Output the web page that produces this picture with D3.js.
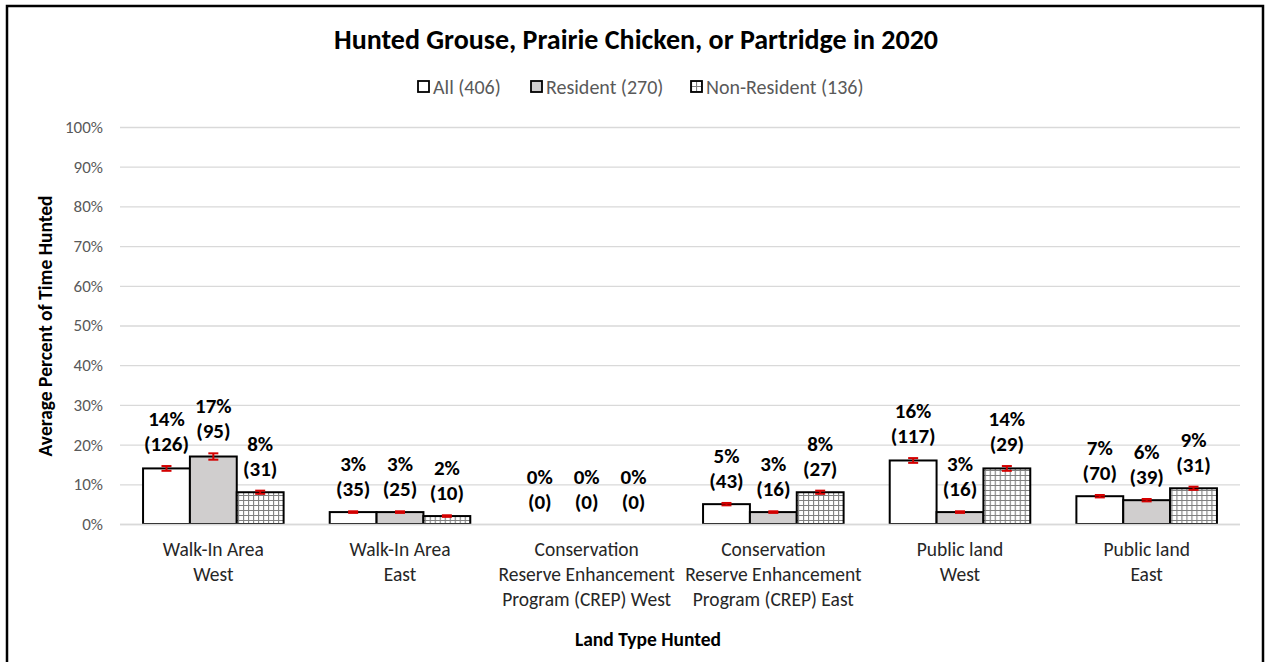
<!DOCTYPE html>
<html>
<head>
<meta charset="utf-8">
<script src="https://cdn.jsdelivr.net/npm/d3@7"></script>
<style>
  html, body { margin: 0; padding: 0; background: #fff; }
  svg { display: block; font-family: Carlito, "Liberation Sans", Arial, sans-serif; }
</style>
</head>
<body>
<svg id="chart" width="1265" height="662"></svg>
<script>
// values
const categories = [
  ["Walk-In Area", "West"],
  ["Walk-In Area", "East"],
  ["Conservation", "Reserve Enhancement", "Program (CREP) West"],
  ["Conservation", "Reserve Enhancement", "Program (CREP) East"],
  ["Public land", "West"],
  ["Public land", "East"]
];
const seriesNames = ["All (406)", "Resident (270)", "Non-Resident (136)"];
const allPct = [14, 3, 0, 5, 16, 7];
const allN = [126, 35, 0, 43, 117, 70];
const allErr = [0.6, 0.2, 0, 0.3, 0.6, 0.3];
const resPct = [17, 3, 0, 3, 3, 6];
const resN = [95, 25, 0, 16, 16, 39];
const resErr = [0.8, 0.2, 0, 0.2, 0.2, 0.3];
const nonPct = [8, 2, 0, 8, 14, 9];
const nonN = [31, 10, 0, 27, 29, 31];
const nonErr = [0.4, 0.2, 0, 0.4, 0.6, 0.4];
const yTicks = [0, 10, 20, 30, 40, 50, 60, 70, 80, 90, 100];

const series = [
  { name: seriesNames[0], pct: allPct, n: allN, err: allErr, fill: "#ffffff" },
  { name: seriesNames[1], pct: resPct, n: resN, err: resErr, fill: "#d0cece" },
  { name: seriesNames[2], pct: nonPct, n: nonN, err: nonErr, fill: "url(#grid)" }
];

const svg = d3.select("#chart");
const plot = { left: 120, right: 1240, top: 127, bottom: 524 };

// hatch pattern for non-resident bars
const defs = svg.append("defs");
const pat = defs.append("pattern")
  .attr("id", "grid")
  .attr("patternUnits", "userSpaceOnUse")
  .attr("width", 5).attr("height", 5);
pat.append("rect").attr("width", 5).attr("height", 5).attr("fill", "#fff");
pat.append("path").attr("d", "M0,0.5H5M0.5,0V5")
  .attr("stroke", "#808080").attr("stroke-width", 1.2);

// outer frame
svg.append("path")
  .attr("d", "M7,670V6H1263V670")
  .attr("fill", "none").attr("stroke", "#000").attr("stroke-width", 2.5);

const x0 = d3.scaleBand()
  .domain(d3.range(categories.length))
  .range([plot.left, plot.right])
  .paddingInner(0.247).paddingOuter(0.1235);
const x1 = d3.scaleBand()
  .domain(d3.range(series.length))
  .range([0, x0.bandwidth()]);
const y = d3.scaleLinear().domain([0, 100]).range([plot.bottom, plot.top]);

// title
svg.append("text")
  .attr("x", 636).attr("y", 49)
  .attr("text-anchor", "middle")
  .attr("font-size", 28).attr("font-weight", "bold").attr("fill", "#000")
  .text("Hunted Grouse, Prairie Chicken, or Partridge in 2020");

// legend
const legendX = [418, 531, 691];
const legend = svg.append("g");
series.forEach((s, i) => {
  const g = legend.append("g").attr("transform", `translate(${legendX[i]},81)`);
  g.append("rect").attr("width", 11).attr("height", 11)
    .attr("fill", i === 2 ? "url(#grid)" : s.fill)
    .attr("stroke", "#000").attr("stroke-width", 1.8);
  g.append("text").attr("x", 15).attr("y", 13)
    .attr("font-size", 20).attr("fill", "#595959")
    .text(s.name);
});

// gridlines
svg.append("g")
  .selectAll("line")
  .data(yTicks)
  .join("line")
  .attr("x1", plot.left).attr("x2", plot.right)
  .attr("y1", d => y(d) + 0.5).attr("y2", d => y(d) + 0.5)
  .attr("stroke", "#d9d9d9").attr("stroke-width", 1.3);

// y axis
const yAxis = svg.append("g")
  .attr("transform", `translate(${plot.left - 14},0)`)
  .call(d3.axisLeft(y).tickValues(yTicks).tickFormat(d => d + "%").tickSize(0));
yAxis.select(".domain").remove();
yAxis.selectAll("text")
  .attr("font-size", 17).attr("fill", "#595959")
  .attr("font-family", 'Carlito, "Liberation Sans", Arial, sans-serif');

// bars
const groups = svg.append("g")
  .selectAll("g")
  .data(categories.map((c, i) => i))
  .join("g")
  .attr("transform", i => `translate(${x0(i)},0)`);

groups.each(function (ci) {
  const g = d3.select(this);
  series.forEach((s, si) => {
    const v = s.pct[ci];
    const bx = x1(si);
    const bw = x1.bandwidth();
    if (v > 0) {
      g.append("rect")
        .attr("x", bx).attr("width", bw)
        .attr("y", y(v)).attr("height", y(0) - y(v))
        .attr("fill", s.fill)
        .attr("stroke", "#000").attr("stroke-width", 2);
    }
    // error bars
    const e = s.err[ci];
    if (v > 0) {
      const cx = bx + bw / 2;
      const eb = g.append("g").attr("stroke", "#d40000").attr("stroke-width", 2);
      eb.append("line").attr("x1", cx).attr("x2", cx)
        .attr("y1", y(v - e)).attr("y2", y(v + e));
      [v - e, v + e].forEach(t => {
        eb.append("line").attr("x1", cx - 5).attr("x2", cx + 5)
          .attr("y1", y(t)).attr("y2", y(t));
      });
    }
    // data labels
    const base = y(v + e) - 15;
    const lab = g.append("text")
      .attr("text-anchor", "middle")
      .attr("font-size", 21).attr("font-weight", "bold").attr("fill", "#000");
    lab.append("tspan").attr("x", bx + bw / 2).attr("y", base - 25).text(v + "%");
    lab.append("tspan").attr("x", bx + bw / 2).attr("y", base).text("(" + s.n[ci] + ")");
  });
});

// baseline
svg.append("line")
  .attr("x1", plot.left).attr("x2", plot.right)
  .attr("y1", y(0) + 0.5).attr("y2", y(0) + 0.5)
  .attr("stroke", "#d9d9d9").attr("stroke-width", 1.3);

// category labels
const xAxis = svg.append("g");
categories.forEach((lines, i) => {
  const t = xAxis.append("text")
    .attr("text-anchor", "middle")
    .attr("font-size", 19.5).attr("fill", "#262626");
  lines.forEach((ln, k) => {
    t.append("tspan")
      .attr("x", x0(i) + x0.bandwidth() / 2)
      .attr("y", 556 + k * 25)
      .text(ln);
  });
});

// axis titles
svg.append("text")
  .attr("x", 648).attr("y", 646)
  .attr("text-anchor", "middle")
  .attr("font-size", 19.5).attr("font-weight", "bold").attr("fill", "#000")
  .text("Land Type Hunted");

svg.append("text")
  .attr("transform", "translate(52,326) rotate(-90)")
  .attr("text-anchor", "middle")
  .attr("font-size", 19.5).attr("font-weight", "bold").attr("fill", "#000")
  .text("Average Percent of Time Hunted");
</script>
</body>
</html>
